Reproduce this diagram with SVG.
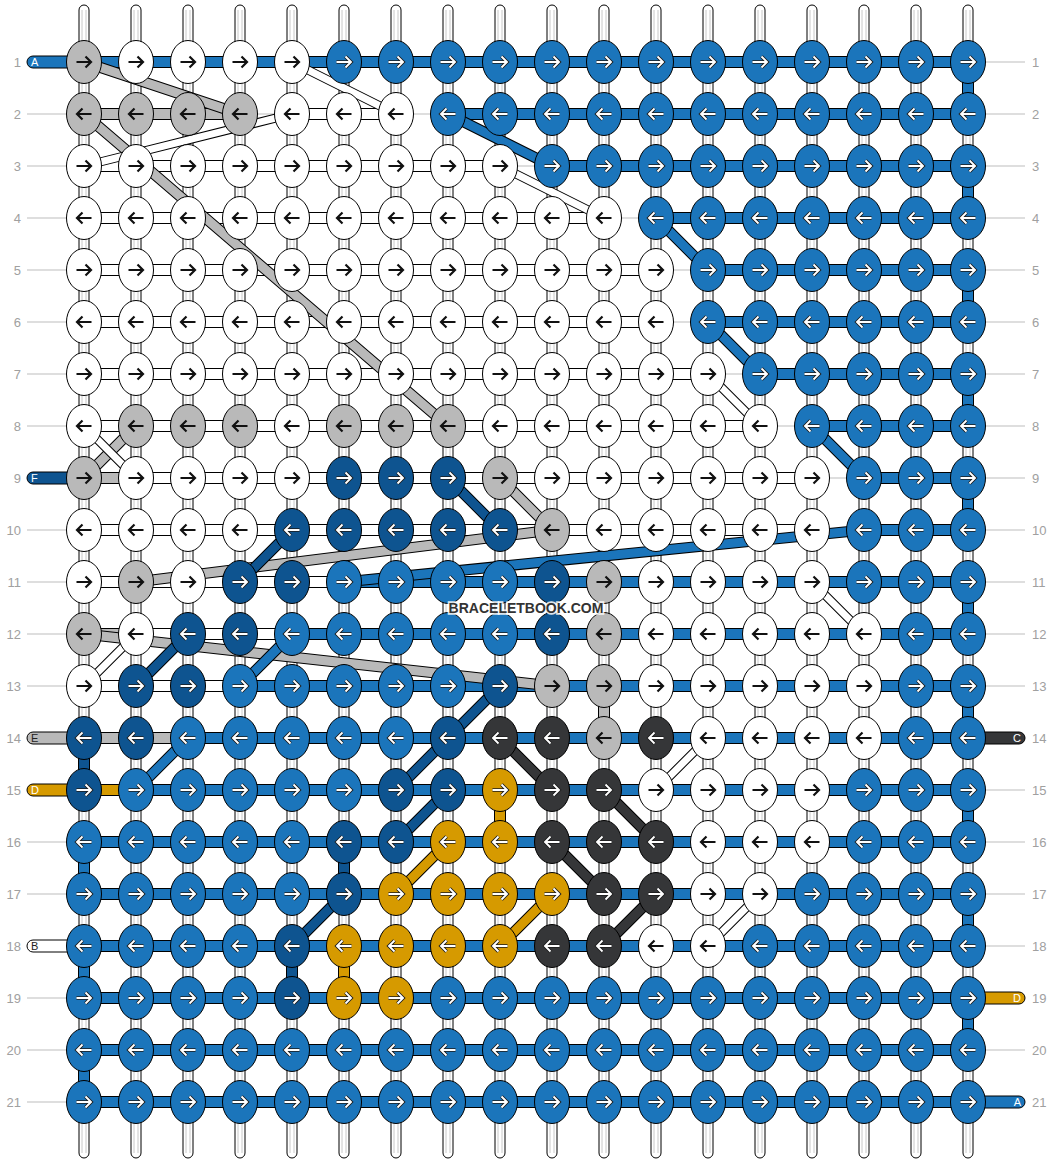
<svg xmlns="http://www.w3.org/2000/svg" xmlns:xlink="http://www.w3.org/1999/xlink" width="1052" height="1164" viewBox="0 0 1052 1164">
<style>
.w{fill:#fff}.b{fill:#1b75bb}.d{fill:#0e5490}.g{fill:#b9b9b9}.k{fill:#353638}.o{fill:#d69a00}
ellipse{stroke:#000;stroke-width:1}
.str rect{fill:#fff;stroke:#000;stroke-width:1}
.inner{fill:none;stroke:#c8c8c8;stroke-width:1}
.guide{fill:none;stroke:#bdbdbd;stroke-width:1}
.num{font-family:"Liberation Sans",Arial,sans-serif;font-size:13px;fill:#a0a0a0}
.bars rect,.vc rect,.leads rect{stroke:#000;stroke-width:1}
.ol{fill:none;stroke:#000;stroke-width:11}
.olw{fill:none;stroke:#000;stroke-width:9}
.sg{fill:none;stroke:#b9b9b9;stroke-width:9}
.sb{fill:none;stroke:#1b75bb;stroke-width:9}
.sd{fill:none;stroke:#0e5490;stroke-width:9}
.sk{fill:none;stroke:#353638;stroke-width:9}
.so{fill:none;stroke:#d69a00;stroke-width:9}
.sw{fill:none;stroke:#fff;stroke-width:7}
.lt{font-family:"Liberation Sans",Arial,sans-serif;font-size:11px}
.ab{fill:none;stroke:#111;stroke-width:2.2}
.ao{fill:none;stroke:#1a1a1a;stroke-width:3.6}
.aw{fill:none;stroke:#fff;stroke-width:1.9}
.wm{font-family:"Liberation Sans",Arial,sans-serif;font-size:14px;font-weight:bold;fill:#333;stroke:#fff;stroke-width:3.5;stroke-opacity:.85;paint-order:stroke;text-anchor:middle}
</style>
<defs>
<path id="rb" class="ab" d="M-7.5,0H6.5M1.5,-5.5L7,0L1.5,5.5"/>
<path id="lb" class="ab" d="M7.5,0H-6.5M-1.5,-5.5L-7,0L-1.5,5.5"/>
<g id="rw"><path class="ao" d="M-7.5,0H6.5M1.5,-5.5L7,0L1.5,5.5"/><path class="aw" d="M-7.5,0H6.5M1.5,-5.5L7,0L1.5,5.5"/></g>
<g id="lw"><path class="ao" d="M7.5,0H-6.5M-1.5,-5.5L-7,0L-1.5,5.5"/><path class="aw" d="M7.5,0H-6.5M-1.5,-5.5L-7,0L-1.5,5.5"/></g>
</defs>
<rect width="1052" height="1164" fill="#fff"/>
<g id="strings" class="str">
<rect x="79" y="5" width="10" height="1153" rx="5"/><rect x="131" y="5" width="10" height="1153" rx="5"/><rect x="183" y="5" width="10" height="1153" rx="5"/><rect x="235" y="5" width="10" height="1153" rx="5"/><rect x="287" y="5" width="10" height="1153" rx="5"/><rect x="339" y="5" width="10" height="1153" rx="5"/><rect x="391" y="5" width="10" height="1153" rx="5"/><rect x="443" y="5" width="10" height="1153" rx="5"/><rect x="495" y="5" width="10" height="1153" rx="5"/><rect x="547" y="5" width="10" height="1153" rx="5"/><rect x="599" y="5" width="10" height="1153" rx="5"/><rect x="651" y="5" width="10" height="1153" rx="5"/><rect x="703" y="5" width="10" height="1153" rx="5"/><rect x="755" y="5" width="10" height="1153" rx="5"/><rect x="807" y="5" width="10" height="1153" rx="5"/><rect x="859" y="5" width="10" height="1153" rx="5"/><rect x="911" y="5" width="10" height="1153" rx="5"/><rect x="963" y="5" width="10" height="1153" rx="5"/>
<path class="inner" d="M82,10V1153M86,10V1153M134,10V1153M138,10V1153M186,10V1153M190,10V1153M238,10V1153M242,10V1153M290,10V1153M294,10V1153M342,10V1153M346,10V1153M394,10V1153M398,10V1153M446,10V1153M450,10V1153M498,10V1153M502,10V1153M550,10V1153M554,10V1153M602,10V1153M606,10V1153M654,10V1153M658,10V1153M706,10V1153M710,10V1153M758,10V1153M762,10V1153M810,10V1153M814,10V1153M862,10V1153M866,10V1153M914,10V1153M918,10V1153M966,10V1153M970,10V1153"/>
</g>
<g id="rows">
<path class="guide" d="M27,114H70M27,166H70M27,218H70M27,270H70M27,322H70M27,374H70M27,426H70M27,530H70M27,582H70M27,634H70M27,686H70M27,842H70M27,894H70M27,998H70M27,1050H70M27,1102H70M966,62H1025M966,114H1025M966,166H1025M966,218H1025M966,270H1025M966,322H1025M966,374H1025M966,426H1025M966,478H1025M966,530H1025M966,582H1025M966,634H1025M966,686H1025M966,790H1025M966,842H1025M966,894H1025M966,946H1025M966,1050H1025"/>
<g class="num" text-anchor="end">
<text x="21" y="67">1</text><text x="21" y="119">2</text><text x="21" y="171">3</text><text x="21" y="223">4</text><text x="21" y="275">5</text><text x="21" y="327">6</text><text x="21" y="379">7</text><text x="21" y="431">8</text><text x="21" y="483">9</text><text x="21" y="535">10</text><text x="21" y="587">11</text><text x="21" y="639">12</text><text x="21" y="691">13</text><text x="21" y="743">14</text><text x="21" y="795">15</text><text x="21" y="847">16</text><text x="21" y="899">17</text><text x="21" y="951">18</text><text x="21" y="1003">19</text><text x="21" y="1055">20</text><text x="21" y="1107">21</text>
</g>
<g class="num">
<text x="1032" y="67">1</text><text x="1032" y="119">2</text><text x="1032" y="171">3</text><text x="1032" y="223">4</text><text x="1032" y="275">5</text><text x="1032" y="327">6</text><text x="1032" y="379">7</text><text x="1032" y="431">8</text><text x="1032" y="483">9</text><text x="1032" y="535">10</text><text x="1032" y="587">11</text><text x="1032" y="639">12</text><text x="1032" y="691">13</text><text x="1032" y="743">14</text><text x="1032" y="795">15</text><text x="1032" y="847">16</text><text x="1032" y="899">17</text><text x="1032" y="951">18</text><text x="1032" y="1003">19</text><text x="1032" y="1055">20</text><text x="1032" y="1107">21</text>
</g>
</g>
<g id="connectors">
<g class="bars">
<rect class="b" x="84" y="56.5" width="884" height="11"/>
<rect class="g" x="84" y="108.5" width="156" height="11"/><rect class="w" x="292" y="108.5" width="104" height="11"/><rect class="b" x="448" y="108.5" width="520" height="11"/>
<rect class="w" x="84" y="160.5" width="416" height="11"/><rect class="b" x="552" y="160.5" width="416" height="11"/>
<rect class="w" x="84" y="212.5" width="520" height="11"/><rect class="b" x="656" y="212.5" width="312" height="11"/>
<rect class="w" x="84" y="264.5" width="572" height="11"/><rect class="b" x="708" y="264.5" width="260" height="11"/>
<rect class="w" x="84" y="316.5" width="572" height="11"/><rect class="b" x="708" y="316.5" width="260" height="11"/>
<rect class="w" x="84" y="368.5" width="624" height="11"/><rect class="b" x="760" y="368.5" width="208" height="11"/>
<rect class="w" x="84" y="420.5" width="676" height="11"/><rect class="b" x="812" y="420.5" width="156" height="11"/>
<rect class="g" x="84" y="472.5" width="52" height="11"/><rect class="w" x="136" y="472.5" width="676" height="11"/><rect class="b" x="864" y="472.5" width="104" height="11"/>
<rect class="w" x="84" y="524.5" width="728" height="11"/><rect class="b" x="864" y="524.5" width="104" height="11"/>
<rect class="w" x="84" y="576.5" width="260" height="11"/><rect class="b" x="344" y="576.5" width="624" height="11"/>
<rect class="g" x="84" y="628.5" width="52" height="11"/><rect class="w" x="136" y="628.5" width="156" height="11"/><rect class="b" x="292" y="628.5" width="676" height="11"/>
<rect class="w" x="84" y="680.5" width="156" height="11"/><rect class="b" x="240" y="680.5" width="728" height="11"/>
<rect class="g" x="84" y="732.5" width="104" height="11"/><rect class="b" x="188" y="732.5" width="780" height="11"/>
<rect class="o" x="84" y="784.5" width="52" height="11"/><rect class="b" x="136" y="784.5" width="832" height="11"/>
<rect class="b" x="84" y="836.5" width="884" height="11"/>
<rect class="b" x="84" y="888.5" width="884" height="11"/>
<rect class="b" x="84" y="940.5" width="884" height="11"/>
<rect class="b" x="84" y="992.5" width="884" height="11"/>
<rect class="b" x="84" y="1044.5" width="884" height="11"/>
<rect class="b" x="84" y="1096.5" width="884" height="11"/>
</g>
<path class="guide" d="M240,114H292M396,114H448M500,166H552M604,218H656M656,270H708M656,322H708M708,374H760M760,426H812M812,478H864M812,530H864"/>
<g class="vc">
<rect class="b" x="962.5" y="62" width="11" height="52"/><rect class="b" x="962.5" y="166" width="11" height="52"/><rect class="b" x="962.5" y="270" width="11" height="52"/><rect class="b" x="962.5" y="374" width="11" height="52"/><rect class="b" x="962.5" y="478" width="11" height="52"/><rect class="b" x="962.5" y="582" width="11" height="52"/><rect class="b" x="962.5" y="686" width="11" height="52"/><rect class="b" x="962.5" y="790" width="11" height="52"/><rect class="b" x="962.5" y="894" width="11" height="52"/><rect class="b" x="962.5" y="998" width="11" height="52"/>
<rect class="b" x="78.5" y="842" width="11" height="52"/><rect class="b" x="78.5" y="946" width="11" height="52"/><rect class="b" x="78.5" y="1050" width="11" height="52"/>
<rect class="d" x="78.5" y="738" width="11" height="52"/><rect class="d" x="338.5" y="842" width="11" height="52"/><rect class="d" x="286.5" y="946" width="11" height="52"/>
<rect class="o" x="494.5" y="790" width="11" height="52"/><rect class="o" x="338.5" y="946" width="11" height="52"/>
<rect class="g" x="598.5" y="686" width="11" height="52"/>
</g>
<g id="diagonals">
<path class="ol" d="M84,62L240,114M84,114L448,426M136,426L84,478M500,478L552,530M552,530L136,582M84,634L552,686"/>
<path class="sg" d="M84,62L240,114M84,114L448,426M136,426L84,478M500,478L552,530M552,530L136,582M84,634L552,686"/>
<path class="olw" d="M292,62L396,114M292,114L84,166M500,166L604,218M708,374L760,426M84,426L136,478M812,582L864,634M136,634L84,686M708,738L656,790M760,894L708,946"/>
<path class="sw" d="M292,62L396,114M292,114L84,166M500,166L604,218M708,374L760,426M84,426L136,478M812,582L864,634M136,634L84,686M708,738L656,790M760,894L708,946"/>
<path class="ol" d="M448,114L552,166M656,218L708,270M708,322L760,374M812,426L864,478M864,530L344,582M292,634L240,686M188,738L136,790"/>
<path class="sb" d="M448,114L552,166M656,218L708,270M708,322L760,374M812,426L864,478M864,530L344,582M292,634L240,686M188,738L136,790"/>
<path class="ol" d="M448,478L500,530M292,530L240,582M188,634L136,686M500,686L448,738M448,738L396,790M448,790L396,842M344,894L292,946"/>
<path class="sd" d="M448,478L500,530M292,530L240,582M188,634L136,686M500,686L448,738M448,738L396,790M448,790L396,842M344,894L292,946"/>
<path class="ol" d="M500,738L552,790M604,790L656,842M552,842L604,894M656,894L604,946"/>
<path class="sk" d="M500,738L552,790M604,790L656,842M552,842L604,894M656,894L604,946"/>
<path class="ol" d="M448,842L396,894M552,894L500,946"/>
<path class="so" d="M448,842L396,894M552,894L500,946"/>
</g>
</g>
<g id="leads" class="leads">
<rect class="b" x="27" y="56" width="57" height="12" rx="6"/><text class="lt" x="31" y="66" fill="#fff">A</text>
<rect class="d" x="27" y="472" width="57" height="12" rx="6"/><text class="lt" x="31" y="482" fill="#fff">F</text>
<rect class="g" x="27" y="732" width="57" height="12" rx="6"/><text class="lt" x="31" y="742" fill="#222">E</text>
<rect class="o" x="27" y="784" width="57" height="12" rx="6"/><text class="lt" x="31" y="794" fill="#fff">D</text>
<rect class="w" x="27" y="940" width="57" height="12" rx="6"/><text class="lt" x="31" y="950" fill="#222">B</text>
<rect class="k" x="968" y="732" width="57" height="12" rx="6"/><text class="lt" x="1021" y="742" fill="#fff" text-anchor="end">C</text>
<rect class="o" x="968" y="992" width="57" height="12" rx="6"/><text class="lt" x="1021" y="1002" fill="#fff" text-anchor="end">D</text>
<rect class="b" x="968" y="1096" width="57" height="12" rx="6"/><text class="lt" x="1021" y="1106" fill="#fff" text-anchor="end">A</text>
</g>
<g id="knots">
<g id="k1-1" transform="translate(84,62)"><ellipse class="g" rx="17.5" ry="21.5"/><use href="#rb"/></g>
<g id="k1-2" transform="translate(136,62)"><ellipse class="w" rx="17.5" ry="21.5"/><use href="#rb"/></g>
<g id="k1-3" transform="translate(188,62)"><ellipse class="w" rx="17.5" ry="21.5"/><use href="#rb"/></g>
<g id="k1-4" transform="translate(240,62)"><ellipse class="w" rx="17.5" ry="21.5"/><use href="#rb"/></g>
<g id="k1-5" transform="translate(292,62)"><ellipse class="w" rx="17.5" ry="21.5"/><use href="#rb"/></g>
<g id="k1-6" transform="translate(344,62)"><ellipse class="b" rx="17.5" ry="21.5"/><use href="#rw"/></g>
<g id="k1-7" transform="translate(396,62)"><ellipse class="b" rx="17.5" ry="21.5"/><use href="#rw"/></g>
<g id="k1-8" transform="translate(448,62)"><ellipse class="b" rx="17.5" ry="21.5"/><use href="#rw"/></g>
<g id="k1-9" transform="translate(500,62)"><ellipse class="b" rx="17.5" ry="21.5"/><use href="#rw"/></g>
<g id="k1-10" transform="translate(552,62)"><ellipse class="b" rx="17.5" ry="21.5"/><use href="#rw"/></g>
<g id="k1-11" transform="translate(604,62)"><ellipse class="b" rx="17.5" ry="21.5"/><use href="#rw"/></g>
<g id="k1-12" transform="translate(656,62)"><ellipse class="b" rx="17.5" ry="21.5"/><use href="#rw"/></g>
<g id="k1-13" transform="translate(708,62)"><ellipse class="b" rx="17.5" ry="21.5"/><use href="#rw"/></g>
<g id="k1-14" transform="translate(760,62)"><ellipse class="b" rx="17.5" ry="21.5"/><use href="#rw"/></g>
<g id="k1-15" transform="translate(812,62)"><ellipse class="b" rx="17.5" ry="21.5"/><use href="#rw"/></g>
<g id="k1-16" transform="translate(864,62)"><ellipse class="b" rx="17.5" ry="21.5"/><use href="#rw"/></g>
<g id="k1-17" transform="translate(916,62)"><ellipse class="b" rx="17.5" ry="21.5"/><use href="#rw"/></g>
<g id="k1-18" transform="translate(968,62)"><ellipse class="b" rx="17.5" ry="21.5"/><use href="#rw"/></g>
<g id="k2-1" transform="translate(84,114)"><ellipse class="g" rx="17.5" ry="21.5"/><use href="#lb"/></g>
<g id="k2-2" transform="translate(136,114)"><ellipse class="g" rx="17.5" ry="21.5"/><use href="#lb"/></g>
<g id="k2-3" transform="translate(188,114)"><ellipse class="g" rx="17.5" ry="21.5"/><use href="#lb"/></g>
<g id="k2-4" transform="translate(240,114)"><ellipse class="g" rx="17.5" ry="21.5"/><use href="#lb"/></g>
<g id="k2-5" transform="translate(292,114)"><ellipse class="w" rx="17.5" ry="21.5"/><use href="#lb"/></g>
<g id="k2-6" transform="translate(344,114)"><ellipse class="w" rx="17.5" ry="21.5"/><use href="#lb"/></g>
<g id="k2-7" transform="translate(396,114)"><ellipse class="w" rx="17.5" ry="21.5"/><use href="#lb"/></g>
<g id="k2-8" transform="translate(448,114)"><ellipse class="b" rx="17.5" ry="21.5"/><use href="#lw"/></g>
<g id="k2-9" transform="translate(500,114)"><ellipse class="b" rx="17.5" ry="21.5"/><use href="#lw"/></g>
<g id="k2-10" transform="translate(552,114)"><ellipse class="b" rx="17.5" ry="21.5"/><use href="#lw"/></g>
<g id="k2-11" transform="translate(604,114)"><ellipse class="b" rx="17.5" ry="21.5"/><use href="#lw"/></g>
<g id="k2-12" transform="translate(656,114)"><ellipse class="b" rx="17.5" ry="21.5"/><use href="#lw"/></g>
<g id="k2-13" transform="translate(708,114)"><ellipse class="b" rx="17.5" ry="21.5"/><use href="#lw"/></g>
<g id="k2-14" transform="translate(760,114)"><ellipse class="b" rx="17.5" ry="21.5"/><use href="#lw"/></g>
<g id="k2-15" transform="translate(812,114)"><ellipse class="b" rx="17.5" ry="21.5"/><use href="#lw"/></g>
<g id="k2-16" transform="translate(864,114)"><ellipse class="b" rx="17.5" ry="21.5"/><use href="#lw"/></g>
<g id="k2-17" transform="translate(916,114)"><ellipse class="b" rx="17.5" ry="21.5"/><use href="#lw"/></g>
<g id="k2-18" transform="translate(968,114)"><ellipse class="b" rx="17.5" ry="21.5"/><use href="#lw"/></g>
<g id="k3-1" transform="translate(84,166)"><ellipse class="w" rx="17.5" ry="21.5"/><use href="#rb"/></g>
<g id="k3-2" transform="translate(136,166)"><ellipse class="w" rx="17.5" ry="21.5"/><use href="#rb"/></g>
<g id="k3-3" transform="translate(188,166)"><ellipse class="w" rx="17.5" ry="21.5"/><use href="#rb"/></g>
<g id="k3-4" transform="translate(240,166)"><ellipse class="w" rx="17.5" ry="21.5"/><use href="#rb"/></g>
<g id="k3-5" transform="translate(292,166)"><ellipse class="w" rx="17.5" ry="21.5"/><use href="#rb"/></g>
<g id="k3-6" transform="translate(344,166)"><ellipse class="w" rx="17.5" ry="21.5"/><use href="#rb"/></g>
<g id="k3-7" transform="translate(396,166)"><ellipse class="w" rx="17.5" ry="21.5"/><use href="#rb"/></g>
<g id="k3-8" transform="translate(448,166)"><ellipse class="w" rx="17.5" ry="21.5"/><use href="#rb"/></g>
<g id="k3-9" transform="translate(500,166)"><ellipse class="w" rx="17.5" ry="21.5"/><use href="#rb"/></g>
<g id="k3-10" transform="translate(552,166)"><ellipse class="b" rx="17.5" ry="21.5"/><use href="#rw"/></g>
<g id="k3-11" transform="translate(604,166)"><ellipse class="b" rx="17.5" ry="21.5"/><use href="#rw"/></g>
<g id="k3-12" transform="translate(656,166)"><ellipse class="b" rx="17.5" ry="21.5"/><use href="#rw"/></g>
<g id="k3-13" transform="translate(708,166)"><ellipse class="b" rx="17.5" ry="21.5"/><use href="#rw"/></g>
<g id="k3-14" transform="translate(760,166)"><ellipse class="b" rx="17.5" ry="21.5"/><use href="#rw"/></g>
<g id="k3-15" transform="translate(812,166)"><ellipse class="b" rx="17.5" ry="21.5"/><use href="#rw"/></g>
<g id="k3-16" transform="translate(864,166)"><ellipse class="b" rx="17.5" ry="21.5"/><use href="#rw"/></g>
<g id="k3-17" transform="translate(916,166)"><ellipse class="b" rx="17.5" ry="21.5"/><use href="#rw"/></g>
<g id="k3-18" transform="translate(968,166)"><ellipse class="b" rx="17.5" ry="21.5"/><use href="#rw"/></g>
<g id="k4-1" transform="translate(84,218)"><ellipse class="w" rx="17.5" ry="21.5"/><use href="#lb"/></g>
<g id="k4-2" transform="translate(136,218)"><ellipse class="w" rx="17.5" ry="21.5"/><use href="#lb"/></g>
<g id="k4-3" transform="translate(188,218)"><ellipse class="w" rx="17.5" ry="21.5"/><use href="#lb"/></g>
<g id="k4-4" transform="translate(240,218)"><ellipse class="w" rx="17.5" ry="21.5"/><use href="#lb"/></g>
<g id="k4-5" transform="translate(292,218)"><ellipse class="w" rx="17.5" ry="21.5"/><use href="#lb"/></g>
<g id="k4-6" transform="translate(344,218)"><ellipse class="w" rx="17.5" ry="21.5"/><use href="#lb"/></g>
<g id="k4-7" transform="translate(396,218)"><ellipse class="w" rx="17.5" ry="21.5"/><use href="#lb"/></g>
<g id="k4-8" transform="translate(448,218)"><ellipse class="w" rx="17.5" ry="21.5"/><use href="#lb"/></g>
<g id="k4-9" transform="translate(500,218)"><ellipse class="w" rx="17.5" ry="21.5"/><use href="#lb"/></g>
<g id="k4-10" transform="translate(552,218)"><ellipse class="w" rx="17.5" ry="21.5"/><use href="#lb"/></g>
<g id="k4-11" transform="translate(604,218)"><ellipse class="w" rx="17.5" ry="21.5"/><use href="#lb"/></g>
<g id="k4-12" transform="translate(656,218)"><ellipse class="b" rx="17.5" ry="21.5"/><use href="#lw"/></g>
<g id="k4-13" transform="translate(708,218)"><ellipse class="b" rx="17.5" ry="21.5"/><use href="#lw"/></g>
<g id="k4-14" transform="translate(760,218)"><ellipse class="b" rx="17.5" ry="21.5"/><use href="#lw"/></g>
<g id="k4-15" transform="translate(812,218)"><ellipse class="b" rx="17.5" ry="21.5"/><use href="#lw"/></g>
<g id="k4-16" transform="translate(864,218)"><ellipse class="b" rx="17.5" ry="21.5"/><use href="#lw"/></g>
<g id="k4-17" transform="translate(916,218)"><ellipse class="b" rx="17.5" ry="21.5"/><use href="#lw"/></g>
<g id="k4-18" transform="translate(968,218)"><ellipse class="b" rx="17.5" ry="21.5"/><use href="#lw"/></g>
<g id="k5-1" transform="translate(84,270)"><ellipse class="w" rx="17.5" ry="21.5"/><use href="#rb"/></g>
<g id="k5-2" transform="translate(136,270)"><ellipse class="w" rx="17.5" ry="21.5"/><use href="#rb"/></g>
<g id="k5-3" transform="translate(188,270)"><ellipse class="w" rx="17.5" ry="21.5"/><use href="#rb"/></g>
<g id="k5-4" transform="translate(240,270)"><ellipse class="w" rx="17.5" ry="21.5"/><use href="#rb"/></g>
<g id="k5-5" transform="translate(292,270)"><ellipse class="w" rx="17.5" ry="21.5"/><use href="#rb"/></g>
<g id="k5-6" transform="translate(344,270)"><ellipse class="w" rx="17.5" ry="21.5"/><use href="#rb"/></g>
<g id="k5-7" transform="translate(396,270)"><ellipse class="w" rx="17.5" ry="21.5"/><use href="#rb"/></g>
<g id="k5-8" transform="translate(448,270)"><ellipse class="w" rx="17.5" ry="21.5"/><use href="#rb"/></g>
<g id="k5-9" transform="translate(500,270)"><ellipse class="w" rx="17.5" ry="21.5"/><use href="#rb"/></g>
<g id="k5-10" transform="translate(552,270)"><ellipse class="w" rx="17.5" ry="21.5"/><use href="#rb"/></g>
<g id="k5-11" transform="translate(604,270)"><ellipse class="w" rx="17.5" ry="21.5"/><use href="#rb"/></g>
<g id="k5-12" transform="translate(656,270)"><ellipse class="w" rx="17.5" ry="21.5"/><use href="#rb"/></g>
<g id="k5-13" transform="translate(708,270)"><ellipse class="b" rx="17.5" ry="21.5"/><use href="#rw"/></g>
<g id="k5-14" transform="translate(760,270)"><ellipse class="b" rx="17.5" ry="21.5"/><use href="#rw"/></g>
<g id="k5-15" transform="translate(812,270)"><ellipse class="b" rx="17.5" ry="21.5"/><use href="#rw"/></g>
<g id="k5-16" transform="translate(864,270)"><ellipse class="b" rx="17.5" ry="21.5"/><use href="#rw"/></g>
<g id="k5-17" transform="translate(916,270)"><ellipse class="b" rx="17.5" ry="21.5"/><use href="#rw"/></g>
<g id="k5-18" transform="translate(968,270)"><ellipse class="b" rx="17.5" ry="21.5"/><use href="#rw"/></g>
<g id="k6-1" transform="translate(84,322)"><ellipse class="w" rx="17.5" ry="21.5"/><use href="#lb"/></g>
<g id="k6-2" transform="translate(136,322)"><ellipse class="w" rx="17.5" ry="21.5"/><use href="#lb"/></g>
<g id="k6-3" transform="translate(188,322)"><ellipse class="w" rx="17.5" ry="21.5"/><use href="#lb"/></g>
<g id="k6-4" transform="translate(240,322)"><ellipse class="w" rx="17.5" ry="21.5"/><use href="#lb"/></g>
<g id="k6-5" transform="translate(292,322)"><ellipse class="w" rx="17.5" ry="21.5"/><use href="#lb"/></g>
<g id="k6-6" transform="translate(344,322)"><ellipse class="w" rx="17.5" ry="21.5"/><use href="#lb"/></g>
<g id="k6-7" transform="translate(396,322)"><ellipse class="w" rx="17.5" ry="21.5"/><use href="#lb"/></g>
<g id="k6-8" transform="translate(448,322)"><ellipse class="w" rx="17.5" ry="21.5"/><use href="#lb"/></g>
<g id="k6-9" transform="translate(500,322)"><ellipse class="w" rx="17.5" ry="21.5"/><use href="#lb"/></g>
<g id="k6-10" transform="translate(552,322)"><ellipse class="w" rx="17.5" ry="21.5"/><use href="#lb"/></g>
<g id="k6-11" transform="translate(604,322)"><ellipse class="w" rx="17.5" ry="21.5"/><use href="#lb"/></g>
<g id="k6-12" transform="translate(656,322)"><ellipse class="w" rx="17.5" ry="21.5"/><use href="#lb"/></g>
<g id="k6-13" transform="translate(708,322)"><ellipse class="b" rx="17.5" ry="21.5"/><use href="#lw"/></g>
<g id="k6-14" transform="translate(760,322)"><ellipse class="b" rx="17.5" ry="21.5"/><use href="#lw"/></g>
<g id="k6-15" transform="translate(812,322)"><ellipse class="b" rx="17.5" ry="21.5"/><use href="#lw"/></g>
<g id="k6-16" transform="translate(864,322)"><ellipse class="b" rx="17.5" ry="21.5"/><use href="#lw"/></g>
<g id="k6-17" transform="translate(916,322)"><ellipse class="b" rx="17.5" ry="21.5"/><use href="#lw"/></g>
<g id="k6-18" transform="translate(968,322)"><ellipse class="b" rx="17.5" ry="21.5"/><use href="#lw"/></g>
<g id="k7-1" transform="translate(84,374)"><ellipse class="w" rx="17.5" ry="21.5"/><use href="#rb"/></g>
<g id="k7-2" transform="translate(136,374)"><ellipse class="w" rx="17.5" ry="21.5"/><use href="#rb"/></g>
<g id="k7-3" transform="translate(188,374)"><ellipse class="w" rx="17.5" ry="21.5"/><use href="#rb"/></g>
<g id="k7-4" transform="translate(240,374)"><ellipse class="w" rx="17.5" ry="21.5"/><use href="#rb"/></g>
<g id="k7-5" transform="translate(292,374)"><ellipse class="w" rx="17.5" ry="21.5"/><use href="#rb"/></g>
<g id="k7-6" transform="translate(344,374)"><ellipse class="w" rx="17.5" ry="21.5"/><use href="#rb"/></g>
<g id="k7-7" transform="translate(396,374)"><ellipse class="w" rx="17.5" ry="21.5"/><use href="#rb"/></g>
<g id="k7-8" transform="translate(448,374)"><ellipse class="w" rx="17.5" ry="21.5"/><use href="#rb"/></g>
<g id="k7-9" transform="translate(500,374)"><ellipse class="w" rx="17.5" ry="21.5"/><use href="#rb"/></g>
<g id="k7-10" transform="translate(552,374)"><ellipse class="w" rx="17.5" ry="21.5"/><use href="#rb"/></g>
<g id="k7-11" transform="translate(604,374)"><ellipse class="w" rx="17.5" ry="21.5"/><use href="#rb"/></g>
<g id="k7-12" transform="translate(656,374)"><ellipse class="w" rx="17.5" ry="21.5"/><use href="#rb"/></g>
<g id="k7-13" transform="translate(708,374)"><ellipse class="w" rx="17.5" ry="21.5"/><use href="#rb"/></g>
<g id="k7-14" transform="translate(760,374)"><ellipse class="b" rx="17.5" ry="21.5"/><use href="#rw"/></g>
<g id="k7-15" transform="translate(812,374)"><ellipse class="b" rx="17.5" ry="21.5"/><use href="#rw"/></g>
<g id="k7-16" transform="translate(864,374)"><ellipse class="b" rx="17.5" ry="21.5"/><use href="#rw"/></g>
<g id="k7-17" transform="translate(916,374)"><ellipse class="b" rx="17.5" ry="21.5"/><use href="#rw"/></g>
<g id="k7-18" transform="translate(968,374)"><ellipse class="b" rx="17.5" ry="21.5"/><use href="#rw"/></g>
<g id="k8-1" transform="translate(84,426)"><ellipse class="w" rx="17.5" ry="21.5"/><use href="#lb"/></g>
<g id="k8-2" transform="translate(136,426)"><ellipse class="g" rx="17.5" ry="21.5"/><use href="#lb"/></g>
<g id="k8-3" transform="translate(188,426)"><ellipse class="g" rx="17.5" ry="21.5"/><use href="#lb"/></g>
<g id="k8-4" transform="translate(240,426)"><ellipse class="g" rx="17.5" ry="21.5"/><use href="#lb"/></g>
<g id="k8-5" transform="translate(292,426)"><ellipse class="w" rx="17.5" ry="21.5"/><use href="#lb"/></g>
<g id="k8-6" transform="translate(344,426)"><ellipse class="g" rx="17.5" ry="21.5"/><use href="#lb"/></g>
<g id="k8-7" transform="translate(396,426)"><ellipse class="g" rx="17.5" ry="21.5"/><use href="#lb"/></g>
<g id="k8-8" transform="translate(448,426)"><ellipse class="g" rx="17.5" ry="21.5"/><use href="#lb"/></g>
<g id="k8-9" transform="translate(500,426)"><ellipse class="w" rx="17.5" ry="21.5"/><use href="#lb"/></g>
<g id="k8-10" transform="translate(552,426)"><ellipse class="w" rx="17.5" ry="21.5"/><use href="#lb"/></g>
<g id="k8-11" transform="translate(604,426)"><ellipse class="w" rx="17.5" ry="21.5"/><use href="#lb"/></g>
<g id="k8-12" transform="translate(656,426)"><ellipse class="w" rx="17.5" ry="21.5"/><use href="#lb"/></g>
<g id="k8-13" transform="translate(708,426)"><ellipse class="w" rx="17.5" ry="21.5"/><use href="#lb"/></g>
<g id="k8-14" transform="translate(760,426)"><ellipse class="w" rx="17.5" ry="21.5"/><use href="#lb"/></g>
<g id="k8-15" transform="translate(812,426)"><ellipse class="b" rx="17.5" ry="21.5"/><use href="#lw"/></g>
<g id="k8-16" transform="translate(864,426)"><ellipse class="b" rx="17.5" ry="21.5"/><use href="#lw"/></g>
<g id="k8-17" transform="translate(916,426)"><ellipse class="b" rx="17.5" ry="21.5"/><use href="#lw"/></g>
<g id="k8-18" transform="translate(968,426)"><ellipse class="b" rx="17.5" ry="21.5"/><use href="#lw"/></g>
<g id="k9-1" transform="translate(84,478)"><ellipse class="g" rx="17.5" ry="21.5"/><use href="#rb"/></g>
<g id="k9-2" transform="translate(136,478)"><ellipse class="w" rx="17.5" ry="21.5"/><use href="#rb"/></g>
<g id="k9-3" transform="translate(188,478)"><ellipse class="w" rx="17.5" ry="21.5"/><use href="#rb"/></g>
<g id="k9-4" transform="translate(240,478)"><ellipse class="w" rx="17.5" ry="21.5"/><use href="#rb"/></g>
<g id="k9-5" transform="translate(292,478)"><ellipse class="w" rx="17.5" ry="21.5"/><use href="#rb"/></g>
<g id="k9-6" transform="translate(344,478)"><ellipse class="d" rx="17.5" ry="21.5"/><use href="#rw"/></g>
<g id="k9-7" transform="translate(396,478)"><ellipse class="d" rx="17.5" ry="21.5"/><use href="#rw"/></g>
<g id="k9-8" transform="translate(448,478)"><ellipse class="d" rx="17.5" ry="21.5"/><use href="#rw"/></g>
<g id="k9-9" transform="translate(500,478)"><ellipse class="g" rx="17.5" ry="21.5"/><use href="#rb"/></g>
<g id="k9-10" transform="translate(552,478)"><ellipse class="w" rx="17.5" ry="21.5"/><use href="#rb"/></g>
<g id="k9-11" transform="translate(604,478)"><ellipse class="w" rx="17.5" ry="21.5"/><use href="#rb"/></g>
<g id="k9-12" transform="translate(656,478)"><ellipse class="w" rx="17.5" ry="21.5"/><use href="#rb"/></g>
<g id="k9-13" transform="translate(708,478)"><ellipse class="w" rx="17.5" ry="21.5"/><use href="#rb"/></g>
<g id="k9-14" transform="translate(760,478)"><ellipse class="w" rx="17.5" ry="21.5"/><use href="#rb"/></g>
<g id="k9-15" transform="translate(812,478)"><ellipse class="w" rx="17.5" ry="21.5"/><use href="#rb"/></g>
<g id="k9-16" transform="translate(864,478)"><ellipse class="b" rx="17.5" ry="21.5"/><use href="#rw"/></g>
<g id="k9-17" transform="translate(916,478)"><ellipse class="b" rx="17.5" ry="21.5"/><use href="#rw"/></g>
<g id="k9-18" transform="translate(968,478)"><ellipse class="b" rx="17.5" ry="21.5"/><use href="#rw"/></g>
<g id="k10-1" transform="translate(84,530)"><ellipse class="w" rx="17.5" ry="21.5"/><use href="#lb"/></g>
<g id="k10-2" transform="translate(136,530)"><ellipse class="w" rx="17.5" ry="21.5"/><use href="#lb"/></g>
<g id="k10-3" transform="translate(188,530)"><ellipse class="w" rx="17.5" ry="21.5"/><use href="#lb"/></g>
<g id="k10-4" transform="translate(240,530)"><ellipse class="w" rx="17.5" ry="21.5"/><use href="#lb"/></g>
<g id="k10-5" transform="translate(292,530)"><ellipse class="d" rx="17.5" ry="21.5"/><use href="#lw"/></g>
<g id="k10-6" transform="translate(344,530)"><ellipse class="d" rx="17.5" ry="21.5"/><use href="#lw"/></g>
<g id="k10-7" transform="translate(396,530)"><ellipse class="d" rx="17.5" ry="21.5"/><use href="#lw"/></g>
<g id="k10-8" transform="translate(448,530)"><ellipse class="d" rx="17.5" ry="21.5"/><use href="#lw"/></g>
<g id="k10-9" transform="translate(500,530)"><ellipse class="d" rx="17.5" ry="21.5"/><use href="#lw"/></g>
<g id="k10-10" transform="translate(552,530)"><ellipse class="g" rx="17.5" ry="21.5"/><use href="#lb"/></g>
<g id="k10-11" transform="translate(604,530)"><ellipse class="w" rx="17.5" ry="21.5"/><use href="#lb"/></g>
<g id="k10-12" transform="translate(656,530)"><ellipse class="w" rx="17.5" ry="21.5"/><use href="#lb"/></g>
<g id="k10-13" transform="translate(708,530)"><ellipse class="w" rx="17.5" ry="21.5"/><use href="#lb"/></g>
<g id="k10-14" transform="translate(760,530)"><ellipse class="w" rx="17.5" ry="21.5"/><use href="#lb"/></g>
<g id="k10-15" transform="translate(812,530)"><ellipse class="w" rx="17.5" ry="21.5"/><use href="#lb"/></g>
<g id="k10-16" transform="translate(864,530)"><ellipse class="b" rx="17.5" ry="21.5"/><use href="#lw"/></g>
<g id="k10-17" transform="translate(916,530)"><ellipse class="b" rx="17.5" ry="21.5"/><use href="#lw"/></g>
<g id="k10-18" transform="translate(968,530)"><ellipse class="b" rx="17.5" ry="21.5"/><use href="#lw"/></g>
<g id="k11-1" transform="translate(84,582)"><ellipse class="w" rx="17.5" ry="21.5"/><use href="#rb"/></g>
<g id="k11-2" transform="translate(136,582)"><ellipse class="g" rx="17.5" ry="21.5"/><use href="#rb"/></g>
<g id="k11-3" transform="translate(188,582)"><ellipse class="w" rx="17.5" ry="21.5"/><use href="#rb"/></g>
<g id="k11-4" transform="translate(240,582)"><ellipse class="d" rx="17.5" ry="21.5"/><use href="#rw"/></g>
<g id="k11-5" transform="translate(292,582)"><ellipse class="d" rx="17.5" ry="21.5"/><use href="#rw"/></g>
<g id="k11-6" transform="translate(344,582)"><ellipse class="b" rx="17.5" ry="21.5"/><use href="#rw"/></g>
<g id="k11-7" transform="translate(396,582)"><ellipse class="b" rx="17.5" ry="21.5"/><use href="#rw"/></g>
<g id="k11-8" transform="translate(448,582)"><ellipse class="b" rx="17.5" ry="21.5"/><use href="#rw"/></g>
<g id="k11-9" transform="translate(500,582)"><ellipse class="b" rx="17.5" ry="21.5"/><use href="#rw"/></g>
<g id="k11-10" transform="translate(552,582)"><ellipse class="d" rx="17.5" ry="21.5"/><use href="#rw"/></g>
<g id="k11-11" transform="translate(604,582)"><ellipse class="g" rx="17.5" ry="21.5"/><use href="#rb"/></g>
<g id="k11-12" transform="translate(656,582)"><ellipse class="w" rx="17.5" ry="21.5"/><use href="#rb"/></g>
<g id="k11-13" transform="translate(708,582)"><ellipse class="w" rx="17.5" ry="21.5"/><use href="#rb"/></g>
<g id="k11-14" transform="translate(760,582)"><ellipse class="w" rx="17.5" ry="21.5"/><use href="#rb"/></g>
<g id="k11-15" transform="translate(812,582)"><ellipse class="w" rx="17.5" ry="21.5"/><use href="#rb"/></g>
<g id="k11-16" transform="translate(864,582)"><ellipse class="b" rx="17.5" ry="21.5"/><use href="#rw"/></g>
<g id="k11-17" transform="translate(916,582)"><ellipse class="b" rx="17.5" ry="21.5"/><use href="#rw"/></g>
<g id="k11-18" transform="translate(968,582)"><ellipse class="b" rx="17.5" ry="21.5"/><use href="#rw"/></g>
<g id="k12-1" transform="translate(84,634)"><ellipse class="g" rx="17.5" ry="21.5"/><use href="#lb"/></g>
<g id="k12-2" transform="translate(136,634)"><ellipse class="w" rx="17.5" ry="21.5"/><use href="#lb"/></g>
<g id="k12-3" transform="translate(188,634)"><ellipse class="d" rx="17.5" ry="21.5"/><use href="#lw"/></g>
<g id="k12-4" transform="translate(240,634)"><ellipse class="d" rx="17.5" ry="21.5"/><use href="#lw"/></g>
<g id="k12-5" transform="translate(292,634)"><ellipse class="b" rx="17.5" ry="21.5"/><use href="#lw"/></g>
<g id="k12-6" transform="translate(344,634)"><ellipse class="b" rx="17.5" ry="21.5"/><use href="#lw"/></g>
<g id="k12-7" transform="translate(396,634)"><ellipse class="b" rx="17.5" ry="21.5"/><use href="#lw"/></g>
<g id="k12-8" transform="translate(448,634)"><ellipse class="b" rx="17.5" ry="21.5"/><use href="#lw"/></g>
<g id="k12-9" transform="translate(500,634)"><ellipse class="b" rx="17.5" ry="21.5"/><use href="#lw"/></g>
<g id="k12-10" transform="translate(552,634)"><ellipse class="d" rx="17.5" ry="21.5"/><use href="#lw"/></g>
<g id="k12-11" transform="translate(604,634)"><ellipse class="g" rx="17.5" ry="21.5"/><use href="#lb"/></g>
<g id="k12-12" transform="translate(656,634)"><ellipse class="w" rx="17.5" ry="21.5"/><use href="#lb"/></g>
<g id="k12-13" transform="translate(708,634)"><ellipse class="w" rx="17.5" ry="21.5"/><use href="#lb"/></g>
<g id="k12-14" transform="translate(760,634)"><ellipse class="w" rx="17.5" ry="21.5"/><use href="#lb"/></g>
<g id="k12-15" transform="translate(812,634)"><ellipse class="w" rx="17.5" ry="21.5"/><use href="#lb"/></g>
<g id="k12-16" transform="translate(864,634)"><ellipse class="w" rx="17.5" ry="21.5"/><use href="#lb"/></g>
<g id="k12-17" transform="translate(916,634)"><ellipse class="b" rx="17.5" ry="21.5"/><use href="#lw"/></g>
<g id="k12-18" transform="translate(968,634)"><ellipse class="b" rx="17.5" ry="21.5"/><use href="#lw"/></g>
<g id="k13-1" transform="translate(84,686)"><ellipse class="w" rx="17.5" ry="21.5"/><use href="#rb"/></g>
<g id="k13-2" transform="translate(136,686)"><ellipse class="d" rx="17.5" ry="21.5"/><use href="#rw"/></g>
<g id="k13-3" transform="translate(188,686)"><ellipse class="d" rx="17.5" ry="21.5"/><use href="#rw"/></g>
<g id="k13-4" transform="translate(240,686)"><ellipse class="b" rx="17.5" ry="21.5"/><use href="#rw"/></g>
<g id="k13-5" transform="translate(292,686)"><ellipse class="b" rx="17.5" ry="21.5"/><use href="#rw"/></g>
<g id="k13-6" transform="translate(344,686)"><ellipse class="b" rx="17.5" ry="21.5"/><use href="#rw"/></g>
<g id="k13-7" transform="translate(396,686)"><ellipse class="b" rx="17.5" ry="21.5"/><use href="#rw"/></g>
<g id="k13-8" transform="translate(448,686)"><ellipse class="b" rx="17.5" ry="21.5"/><use href="#rw"/></g>
<g id="k13-9" transform="translate(500,686)"><ellipse class="d" rx="17.5" ry="21.5"/><use href="#rw"/></g>
<g id="k13-10" transform="translate(552,686)"><ellipse class="g" rx="17.5" ry="21.5"/><use href="#rb"/></g>
<g id="k13-11" transform="translate(604,686)"><ellipse class="g" rx="17.5" ry="21.5"/><use href="#rb"/></g>
<g id="k13-12" transform="translate(656,686)"><ellipse class="w" rx="17.5" ry="21.5"/><use href="#rb"/></g>
<g id="k13-13" transform="translate(708,686)"><ellipse class="w" rx="17.5" ry="21.5"/><use href="#rb"/></g>
<g id="k13-14" transform="translate(760,686)"><ellipse class="w" rx="17.5" ry="21.5"/><use href="#rb"/></g>
<g id="k13-15" transform="translate(812,686)"><ellipse class="w" rx="17.5" ry="21.5"/><use href="#rb"/></g>
<g id="k13-16" transform="translate(864,686)"><ellipse class="w" rx="17.5" ry="21.5"/><use href="#rb"/></g>
<g id="k13-17" transform="translate(916,686)"><ellipse class="b" rx="17.5" ry="21.5"/><use href="#rw"/></g>
<g id="k13-18" transform="translate(968,686)"><ellipse class="b" rx="17.5" ry="21.5"/><use href="#rw"/></g>
<g id="k14-1" transform="translate(84,738)"><ellipse class="d" rx="17.5" ry="21.5"/><use href="#lw"/></g>
<g id="k14-2" transform="translate(136,738)"><ellipse class="d" rx="17.5" ry="21.5"/><use href="#lw"/></g>
<g id="k14-3" transform="translate(188,738)"><ellipse class="b" rx="17.5" ry="21.5"/><use href="#lw"/></g>
<g id="k14-4" transform="translate(240,738)"><ellipse class="b" rx="17.5" ry="21.5"/><use href="#lw"/></g>
<g id="k14-5" transform="translate(292,738)"><ellipse class="b" rx="17.5" ry="21.5"/><use href="#lw"/></g>
<g id="k14-6" transform="translate(344,738)"><ellipse class="b" rx="17.5" ry="21.5"/><use href="#lw"/></g>
<g id="k14-7" transform="translate(396,738)"><ellipse class="b" rx="17.5" ry="21.5"/><use href="#lw"/></g>
<g id="k14-8" transform="translate(448,738)"><ellipse class="d" rx="17.5" ry="21.5"/><use href="#lw"/></g>
<g id="k14-9" transform="translate(500,738)"><ellipse class="k" rx="17.5" ry="21.5"/><use href="#lw"/></g>
<g id="k14-10" transform="translate(552,738)"><ellipse class="k" rx="17.5" ry="21.5"/><use href="#lw"/></g>
<g id="k14-11" transform="translate(604,738)"><ellipse class="g" rx="17.5" ry="21.5"/><use href="#lb"/></g>
<g id="k14-12" transform="translate(656,738)"><ellipse class="k" rx="17.5" ry="21.5"/><use href="#lw"/></g>
<g id="k14-13" transform="translate(708,738)"><ellipse class="w" rx="17.5" ry="21.5"/><use href="#lb"/></g>
<g id="k14-14" transform="translate(760,738)"><ellipse class="w" rx="17.5" ry="21.5"/><use href="#lb"/></g>
<g id="k14-15" transform="translate(812,738)"><ellipse class="w" rx="17.5" ry="21.5"/><use href="#lb"/></g>
<g id="k14-16" transform="translate(864,738)"><ellipse class="w" rx="17.5" ry="21.5"/><use href="#lb"/></g>
<g id="k14-17" transform="translate(916,738)"><ellipse class="b" rx="17.5" ry="21.5"/><use href="#lw"/></g>
<g id="k14-18" transform="translate(968,738)"><ellipse class="b" rx="17.5" ry="21.5"/><use href="#lw"/></g>
<g id="k15-1" transform="translate(84,790)"><ellipse class="d" rx="17.5" ry="21.5"/><use href="#rw"/></g>
<g id="k15-2" transform="translate(136,790)"><ellipse class="b" rx="17.5" ry="21.5"/><use href="#rw"/></g>
<g id="k15-3" transform="translate(188,790)"><ellipse class="b" rx="17.5" ry="21.5"/><use href="#rw"/></g>
<g id="k15-4" transform="translate(240,790)"><ellipse class="b" rx="17.5" ry="21.5"/><use href="#rw"/></g>
<g id="k15-5" transform="translate(292,790)"><ellipse class="b" rx="17.5" ry="21.5"/><use href="#rw"/></g>
<g id="k15-6" transform="translate(344,790)"><ellipse class="b" rx="17.5" ry="21.5"/><use href="#rw"/></g>
<g id="k15-7" transform="translate(396,790)"><ellipse class="d" rx="17.5" ry="21.5"/><use href="#rw"/></g>
<g id="k15-8" transform="translate(448,790)"><ellipse class="d" rx="17.5" ry="21.5"/><use href="#rw"/></g>
<g id="k15-9" transform="translate(500,790)"><ellipse class="o" rx="17.5" ry="21.5"/><use href="#rw"/></g>
<g id="k15-10" transform="translate(552,790)"><ellipse class="k" rx="17.5" ry="21.5"/><use href="#rw"/></g>
<g id="k15-11" transform="translate(604,790)"><ellipse class="k" rx="17.5" ry="21.5"/><use href="#rw"/></g>
<g id="k15-12" transform="translate(656,790)"><ellipse class="w" rx="17.5" ry="21.5"/><use href="#rb"/></g>
<g id="k15-13" transform="translate(708,790)"><ellipse class="w" rx="17.5" ry="21.5"/><use href="#rb"/></g>
<g id="k15-14" transform="translate(760,790)"><ellipse class="w" rx="17.5" ry="21.5"/><use href="#rb"/></g>
<g id="k15-15" transform="translate(812,790)"><ellipse class="w" rx="17.5" ry="21.5"/><use href="#rb"/></g>
<g id="k15-16" transform="translate(864,790)"><ellipse class="b" rx="17.5" ry="21.5"/><use href="#rw"/></g>
<g id="k15-17" transform="translate(916,790)"><ellipse class="b" rx="17.5" ry="21.5"/><use href="#rw"/></g>
<g id="k15-18" transform="translate(968,790)"><ellipse class="b" rx="17.5" ry="21.5"/><use href="#rw"/></g>
<g id="k16-1" transform="translate(84,842)"><ellipse class="b" rx="17.5" ry="21.5"/><use href="#lw"/></g>
<g id="k16-2" transform="translate(136,842)"><ellipse class="b" rx="17.5" ry="21.5"/><use href="#lw"/></g>
<g id="k16-3" transform="translate(188,842)"><ellipse class="b" rx="17.5" ry="21.5"/><use href="#lw"/></g>
<g id="k16-4" transform="translate(240,842)"><ellipse class="b" rx="17.5" ry="21.5"/><use href="#lw"/></g>
<g id="k16-5" transform="translate(292,842)"><ellipse class="b" rx="17.5" ry="21.5"/><use href="#lw"/></g>
<g id="k16-6" transform="translate(344,842)"><ellipse class="d" rx="17.5" ry="21.5"/><use href="#lw"/></g>
<g id="k16-7" transform="translate(396,842)"><ellipse class="d" rx="17.5" ry="21.5"/><use href="#lw"/></g>
<g id="k16-8" transform="translate(448,842)"><ellipse class="o" rx="17.5" ry="21.5"/><use href="#lw"/></g>
<g id="k16-9" transform="translate(500,842)"><ellipse class="o" rx="17.5" ry="21.5"/><use href="#lw"/></g>
<g id="k16-10" transform="translate(552,842)"><ellipse class="k" rx="17.5" ry="21.5"/><use href="#lw"/></g>
<g id="k16-11" transform="translate(604,842)"><ellipse class="k" rx="17.5" ry="21.5"/><use href="#lw"/></g>
<g id="k16-12" transform="translate(656,842)"><ellipse class="k" rx="17.5" ry="21.5"/><use href="#lw"/></g>
<g id="k16-13" transform="translate(708,842)"><ellipse class="w" rx="17.5" ry="21.5"/><use href="#lb"/></g>
<g id="k16-14" transform="translate(760,842)"><ellipse class="w" rx="17.5" ry="21.5"/><use href="#lb"/></g>
<g id="k16-15" transform="translate(812,842)"><ellipse class="w" rx="17.5" ry="21.5"/><use href="#lb"/></g>
<g id="k16-16" transform="translate(864,842)"><ellipse class="b" rx="17.5" ry="21.5"/><use href="#lw"/></g>
<g id="k16-17" transform="translate(916,842)"><ellipse class="b" rx="17.5" ry="21.5"/><use href="#lw"/></g>
<g id="k16-18" transform="translate(968,842)"><ellipse class="b" rx="17.5" ry="21.5"/><use href="#lw"/></g>
<g id="k17-1" transform="translate(84,894)"><ellipse class="b" rx="17.5" ry="21.5"/><use href="#rw"/></g>
<g id="k17-2" transform="translate(136,894)"><ellipse class="b" rx="17.5" ry="21.5"/><use href="#rw"/></g>
<g id="k17-3" transform="translate(188,894)"><ellipse class="b" rx="17.5" ry="21.5"/><use href="#rw"/></g>
<g id="k17-4" transform="translate(240,894)"><ellipse class="b" rx="17.5" ry="21.5"/><use href="#rw"/></g>
<g id="k17-5" transform="translate(292,894)"><ellipse class="b" rx="17.5" ry="21.5"/><use href="#rw"/></g>
<g id="k17-6" transform="translate(344,894)"><ellipse class="d" rx="17.5" ry="21.5"/><use href="#rw"/></g>
<g id="k17-7" transform="translate(396,894)"><ellipse class="o" rx="17.5" ry="21.5"/><use href="#rw"/></g>
<g id="k17-8" transform="translate(448,894)"><ellipse class="o" rx="17.5" ry="21.5"/><use href="#rw"/></g>
<g id="k17-9" transform="translate(500,894)"><ellipse class="o" rx="17.5" ry="21.5"/><use href="#rw"/></g>
<g id="k17-10" transform="translate(552,894)"><ellipse class="o" rx="17.5" ry="21.5"/><use href="#rw"/></g>
<g id="k17-11" transform="translate(604,894)"><ellipse class="k" rx="17.5" ry="21.5"/><use href="#rw"/></g>
<g id="k17-12" transform="translate(656,894)"><ellipse class="k" rx="17.5" ry="21.5"/><use href="#rw"/></g>
<g id="k17-13" transform="translate(708,894)"><ellipse class="w" rx="17.5" ry="21.5"/><use href="#rb"/></g>
<g id="k17-14" transform="translate(760,894)"><ellipse class="w" rx="17.5" ry="21.5"/><use href="#rb"/></g>
<g id="k17-15" transform="translate(812,894)"><ellipse class="b" rx="17.5" ry="21.5"/><use href="#rw"/></g>
<g id="k17-16" transform="translate(864,894)"><ellipse class="b" rx="17.5" ry="21.5"/><use href="#rw"/></g>
<g id="k17-17" transform="translate(916,894)"><ellipse class="b" rx="17.5" ry="21.5"/><use href="#rw"/></g>
<g id="k17-18" transform="translate(968,894)"><ellipse class="b" rx="17.5" ry="21.5"/><use href="#rw"/></g>
<g id="k18-1" transform="translate(84,946)"><ellipse class="b" rx="17.5" ry="21.5"/><use href="#lw"/></g>
<g id="k18-2" transform="translate(136,946)"><ellipse class="b" rx="17.5" ry="21.5"/><use href="#lw"/></g>
<g id="k18-3" transform="translate(188,946)"><ellipse class="b" rx="17.5" ry="21.5"/><use href="#lw"/></g>
<g id="k18-4" transform="translate(240,946)"><ellipse class="b" rx="17.5" ry="21.5"/><use href="#lw"/></g>
<g id="k18-5" transform="translate(292,946)"><ellipse class="d" rx="17.5" ry="21.5"/><use href="#lw"/></g>
<g id="k18-6" transform="translate(344,946)"><ellipse class="o" rx="17.5" ry="21.5"/><use href="#lw"/></g>
<g id="k18-7" transform="translate(396,946)"><ellipse class="o" rx="17.5" ry="21.5"/><use href="#lw"/></g>
<g id="k18-8" transform="translate(448,946)"><ellipse class="o" rx="17.5" ry="21.5"/><use href="#lw"/></g>
<g id="k18-9" transform="translate(500,946)"><ellipse class="o" rx="17.5" ry="21.5"/><use href="#lw"/></g>
<g id="k18-10" transform="translate(552,946)"><ellipse class="k" rx="17.5" ry="21.5"/><use href="#lw"/></g>
<g id="k18-11" transform="translate(604,946)"><ellipse class="k" rx="17.5" ry="21.5"/><use href="#lw"/></g>
<g id="k18-12" transform="translate(656,946)"><ellipse class="w" rx="17.5" ry="21.5"/><use href="#lb"/></g>
<g id="k18-13" transform="translate(708,946)"><ellipse class="w" rx="17.5" ry="21.5"/><use href="#lb"/></g>
<g id="k18-14" transform="translate(760,946)"><ellipse class="b" rx="17.5" ry="21.5"/><use href="#lw"/></g>
<g id="k18-15" transform="translate(812,946)"><ellipse class="b" rx="17.5" ry="21.5"/><use href="#lw"/></g>
<g id="k18-16" transform="translate(864,946)"><ellipse class="b" rx="17.5" ry="21.5"/><use href="#lw"/></g>
<g id="k18-17" transform="translate(916,946)"><ellipse class="b" rx="17.5" ry="21.5"/><use href="#lw"/></g>
<g id="k18-18" transform="translate(968,946)"><ellipse class="b" rx="17.5" ry="21.5"/><use href="#lw"/></g>
<g id="k19-1" transform="translate(84,998)"><ellipse class="b" rx="17.5" ry="21.5"/><use href="#rw"/></g>
<g id="k19-2" transform="translate(136,998)"><ellipse class="b" rx="17.5" ry="21.5"/><use href="#rw"/></g>
<g id="k19-3" transform="translate(188,998)"><ellipse class="b" rx="17.5" ry="21.5"/><use href="#rw"/></g>
<g id="k19-4" transform="translate(240,998)"><ellipse class="b" rx="17.5" ry="21.5"/><use href="#rw"/></g>
<g id="k19-5" transform="translate(292,998)"><ellipse class="d" rx="17.5" ry="21.5"/><use href="#rw"/></g>
<g id="k19-6" transform="translate(344,998)"><ellipse class="o" rx="17.5" ry="21.5"/><use href="#rw"/></g>
<g id="k19-7" transform="translate(396,998)"><ellipse class="o" rx="17.5" ry="21.5"/><use href="#rw"/></g>
<g id="k19-8" transform="translate(448,998)"><ellipse class="b" rx="17.5" ry="21.5"/><use href="#rw"/></g>
<g id="k19-9" transform="translate(500,998)"><ellipse class="b" rx="17.5" ry="21.5"/><use href="#rw"/></g>
<g id="k19-10" transform="translate(552,998)"><ellipse class="b" rx="17.5" ry="21.5"/><use href="#rw"/></g>
<g id="k19-11" transform="translate(604,998)"><ellipse class="b" rx="17.5" ry="21.5"/><use href="#rw"/></g>
<g id="k19-12" transform="translate(656,998)"><ellipse class="b" rx="17.5" ry="21.5"/><use href="#rw"/></g>
<g id="k19-13" transform="translate(708,998)"><ellipse class="b" rx="17.5" ry="21.5"/><use href="#rw"/></g>
<g id="k19-14" transform="translate(760,998)"><ellipse class="b" rx="17.5" ry="21.5"/><use href="#rw"/></g>
<g id="k19-15" transform="translate(812,998)"><ellipse class="b" rx="17.5" ry="21.5"/><use href="#rw"/></g>
<g id="k19-16" transform="translate(864,998)"><ellipse class="b" rx="17.5" ry="21.5"/><use href="#rw"/></g>
<g id="k19-17" transform="translate(916,998)"><ellipse class="b" rx="17.5" ry="21.5"/><use href="#rw"/></g>
<g id="k19-18" transform="translate(968,998)"><ellipse class="b" rx="17.5" ry="21.5"/><use href="#rw"/></g>
<g id="k20-1" transform="translate(84,1050)"><ellipse class="b" rx="17.5" ry="21.5"/><use href="#lw"/></g>
<g id="k20-2" transform="translate(136,1050)"><ellipse class="b" rx="17.5" ry="21.5"/><use href="#lw"/></g>
<g id="k20-3" transform="translate(188,1050)"><ellipse class="b" rx="17.5" ry="21.5"/><use href="#lw"/></g>
<g id="k20-4" transform="translate(240,1050)"><ellipse class="b" rx="17.5" ry="21.5"/><use href="#lw"/></g>
<g id="k20-5" transform="translate(292,1050)"><ellipse class="b" rx="17.5" ry="21.5"/><use href="#lw"/></g>
<g id="k20-6" transform="translate(344,1050)"><ellipse class="b" rx="17.5" ry="21.5"/><use href="#lw"/></g>
<g id="k20-7" transform="translate(396,1050)"><ellipse class="b" rx="17.5" ry="21.5"/><use href="#lw"/></g>
<g id="k20-8" transform="translate(448,1050)"><ellipse class="b" rx="17.5" ry="21.5"/><use href="#lw"/></g>
<g id="k20-9" transform="translate(500,1050)"><ellipse class="b" rx="17.5" ry="21.5"/><use href="#lw"/></g>
<g id="k20-10" transform="translate(552,1050)"><ellipse class="b" rx="17.5" ry="21.5"/><use href="#lw"/></g>
<g id="k20-11" transform="translate(604,1050)"><ellipse class="b" rx="17.5" ry="21.5"/><use href="#lw"/></g>
<g id="k20-12" transform="translate(656,1050)"><ellipse class="b" rx="17.5" ry="21.5"/><use href="#lw"/></g>
<g id="k20-13" transform="translate(708,1050)"><ellipse class="b" rx="17.5" ry="21.5"/><use href="#lw"/></g>
<g id="k20-14" transform="translate(760,1050)"><ellipse class="b" rx="17.5" ry="21.5"/><use href="#lw"/></g>
<g id="k20-15" transform="translate(812,1050)"><ellipse class="b" rx="17.5" ry="21.5"/><use href="#lw"/></g>
<g id="k20-16" transform="translate(864,1050)"><ellipse class="b" rx="17.5" ry="21.5"/><use href="#lw"/></g>
<g id="k20-17" transform="translate(916,1050)"><ellipse class="b" rx="17.5" ry="21.5"/><use href="#lw"/></g>
<g id="k20-18" transform="translate(968,1050)"><ellipse class="b" rx="17.5" ry="21.5"/><use href="#lw"/></g>
<g id="k21-1" transform="translate(84,1102)"><ellipse class="b" rx="17.5" ry="21.5"/><use href="#rw"/></g>
<g id="k21-2" transform="translate(136,1102)"><ellipse class="b" rx="17.5" ry="21.5"/><use href="#rw"/></g>
<g id="k21-3" transform="translate(188,1102)"><ellipse class="b" rx="17.5" ry="21.5"/><use href="#rw"/></g>
<g id="k21-4" transform="translate(240,1102)"><ellipse class="b" rx="17.5" ry="21.5"/><use href="#rw"/></g>
<g id="k21-5" transform="translate(292,1102)"><ellipse class="b" rx="17.5" ry="21.5"/><use href="#rw"/></g>
<g id="k21-6" transform="translate(344,1102)"><ellipse class="b" rx="17.5" ry="21.5"/><use href="#rw"/></g>
<g id="k21-7" transform="translate(396,1102)"><ellipse class="b" rx="17.5" ry="21.5"/><use href="#rw"/></g>
<g id="k21-8" transform="translate(448,1102)"><ellipse class="b" rx="17.5" ry="21.5"/><use href="#rw"/></g>
<g id="k21-9" transform="translate(500,1102)"><ellipse class="b" rx="17.5" ry="21.5"/><use href="#rw"/></g>
<g id="k21-10" transform="translate(552,1102)"><ellipse class="b" rx="17.5" ry="21.5"/><use href="#rw"/></g>
<g id="k21-11" transform="translate(604,1102)"><ellipse class="b" rx="17.5" ry="21.5"/><use href="#rw"/></g>
<g id="k21-12" transform="translate(656,1102)"><ellipse class="b" rx="17.5" ry="21.5"/><use href="#rw"/></g>
<g id="k21-13" transform="translate(708,1102)"><ellipse class="b" rx="17.5" ry="21.5"/><use href="#rw"/></g>
<g id="k21-14" transform="translate(760,1102)"><ellipse class="b" rx="17.5" ry="21.5"/><use href="#rw"/></g>
<g id="k21-15" transform="translate(812,1102)"><ellipse class="b" rx="17.5" ry="21.5"/><use href="#rw"/></g>
<g id="k21-16" transform="translate(864,1102)"><ellipse class="b" rx="17.5" ry="21.5"/><use href="#rw"/></g>
<g id="k21-17" transform="translate(916,1102)"><ellipse class="b" rx="17.5" ry="21.5"/><use href="#rw"/></g>
<g id="k21-18" transform="translate(968,1102)"><ellipse class="b" rx="17.5" ry="21.5"/><use href="#rw"/></g>
</g>
<text id="watermark" class="wm" x="526" y="613">BRACELETBOOK.COM</text>
</svg>
